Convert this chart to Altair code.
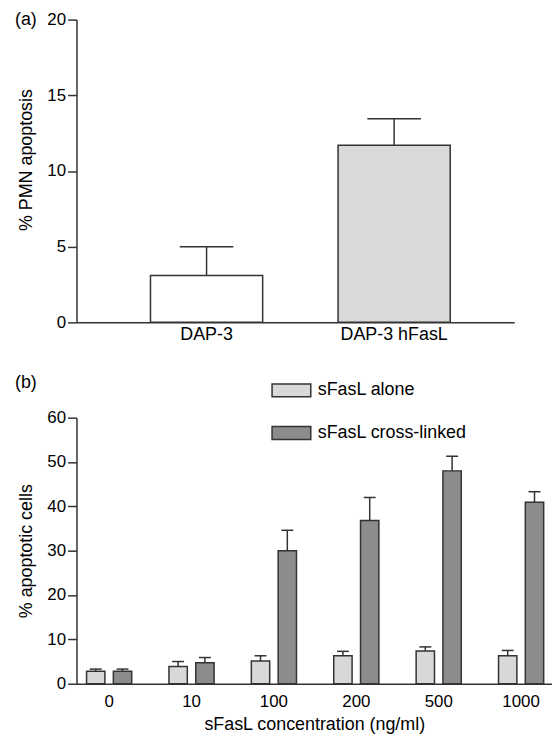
import altair as alt
import pandas as pd

FONT = "Liberation Sans"
INK = "#333333"

# ---- panel (a) data ----
groups_a = ["DAP-3", "DAP-3 hFasL"]
mean_a = [3.1, 11.7]
err_a = [1.9, 1.75]
fills_a = ["#ffffff", "#d9d9d9"]

# ---- panel (b) data ----
concs = ["0", "10", "100", "200", "500", "1000"]
series = ["sFasL alone", "sFasL cross-linked"]
alone_mean = [2.8, 3.9, 5.1, 6.3, 7.4, 6.3]
alone_err = [0.5, 1.1, 1.2, 1.0, 0.9, 1.2]
cross_mean = [2.8, 4.7, 30.0, 36.8, 48.0, 40.9]
cross_err = [0.5, 1.2, 4.6, 5.2, 3.3, 2.4]
fills_b = ["#d8d8d8", "#8c8c8c"]

panel_labels = ["(a)", "(b)"]

df_a = pd.DataFrame({
    "group": groups_a,
    "mean": mean_a,
    "upper": [m + e for m, e in zip(mean_a, err_a)],
})

rows = []
for s, means, errs in [(series[0], alone_mean, alone_err), (series[1], cross_mean, cross_err)]:
    for c, m, e in zip(concs, means, errs):
        rows.append({"conc": c, "series": s, "mean": m, "upper": m + e})
df_b = pd.DataFrame(rows)

# ---- panel (a) ----
x_a = alt.X("group:N", sort=groups_a,
            scale=alt.Scale(paddingInner=0.402, paddingOuter=0.368, align=0.536),
            axis=alt.Axis(title=None, labelAngle=0, ticks=False, tickSize=0,
                          labelPadding=3, labelFontSize=18))
y_a = alt.Y("mean:Q", scale=alt.Scale(domain=[0, 20], nice=False),
            axis=alt.Axis(values=[0, 5, 10, 15, 20], title="% PMN apoptosis", titleY=141))

base_a = alt.Chart(df_a)
bars_a = base_a.mark_bar(stroke=INK, strokeWidth=1.5, opacity=1).encode(
    x=x_a, y=y_a,
    fill=alt.Fill("group:N", scale=alt.Scale(domain=groups_a, range=fills_a), legend=None),
)
stems_a = base_a.mark_rule(color=INK, strokeWidth=1.5).encode(x=x_a, y="mean:Q", y2="upper:Q")
caps_a = base_a.mark_tick(color=INK, thickness=1.5, size=54, opacity=1).encode(x=x_a, y="upper:Q")
label_a = alt.Chart(pd.DataFrame({"t": [panel_labels[0]]})).mark_text(
    align="left", baseline="middle", fontSize=18, font=FONT, color="black"
).encode(text="t:N", x=alt.value(-62), y=alt.value(0))

top = alt.layer(bars_a, stems_a, caps_a, label_a).properties(width=441, height=305)

# ---- panel (b) ----
x_b = alt.X("conc:N", sort=concs,
            scale=alt.Scale(paddingInner=0.35, paddingOuter=0.0605, align=0.587),
            axis=alt.Axis(title="sFasL concentration (ng/ml)", labelAngle=0, ticks=False,
                          tickSize=0, labelPadding=10, labelFontSize=17, titlePadding=6))
xo_b = alt.XOffset("series:N", sort=series,
                   scale=alt.Scale(paddingInner=0.315, paddingOuter=0.157))
y_b = alt.Y("mean:Q", scale=alt.Scale(domain=[0, 60], nice=False),
            axis=alt.Axis(values=[0, 10, 20, 30, 40, 50, 60], title="% apoptotic cells"))

base_b = alt.Chart(df_b)
bars_b = base_b.mark_bar(stroke=INK, strokeWidth=1.5, opacity=1).encode(
    x=x_b, xOffset=xo_b, y=y_b,
    fill=alt.Fill("series:N", scale=alt.Scale(domain=series, range=fills_b),
                  legend=alt.Legend(title=None, orient="none", legendX=202.5, legendY=-41.5,
                                    symbolType="M-1.5,-0.5L1.5,-0.5L1.5,0.5L-1.5,0.5Z",
                                    symbolSize=676, symbolStrokeColor=INK,
                                    symbolStrokeWidth=1.5, symbolOpacity=1,
                                    labelFontSize=18, labelFont=FONT, labelColor="black",
                                    labelOffset=12.5, rowPadding=19, padding=0)),
)
stems_b = base_b.mark_rule(color=INK, strokeWidth=1.5).encode(
    x=x_b, xOffset=xo_b, y="mean:Q", y2="upper:Q")
caps_b = base_b.mark_tick(color=INK, thickness=1.5, size=12, opacity=1).encode(
    x=x_b, xOffset=xo_b, y="upper:Q")
label_b = alt.Chart(pd.DataFrame({"t": [panel_labels[1]]})).mark_text(
    align="left", baseline="middle", fontSize=18, font=FONT, color="black"
).encode(text="t:N", x=alt.value(-62), y=alt.value(-35))

bottom = alt.layer(bars_b, stems_b, caps_b, label_b).properties(width=479, height=268)

chart = alt.vconcat(top, bottom, spacing=31).resolve_scale(
    fill="independent", x="independent", y="independent"
).resolve_legend(fill="independent").properties(
    padding={"left": 7, "top": 0, "right": 0, "bottom": 0}
).configure_view(stroke=None).configure_axis(
    labelFont=FONT, titleFont=FONT, labelColor="black", titleColor="black",
    domainColor=INK, tickColor=INK, domainWidth=1.5, tickWidth=1.5, grid=False,
    titleFontWeight="normal", labelFontSize=17, titleFontSize=18,
).configure_axisY(tickSize=9, labelPadding=2, titlePadding=11)

chart.save("out.html", embed_options={"renderer": "svg", "actions": False})
